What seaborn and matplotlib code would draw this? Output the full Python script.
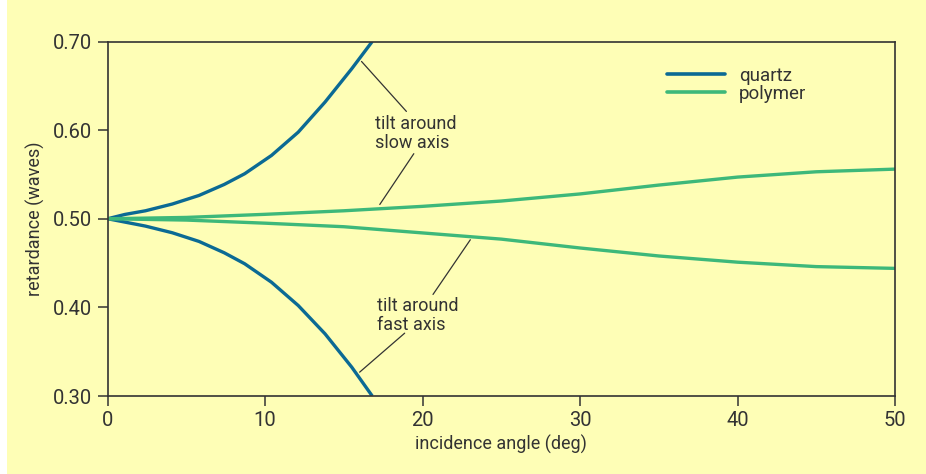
import numpy as np
import pandas as pd
import matplotlib
matplotlib.use("Agg")
import matplotlib.pyplot as plt
import seaborn as sns
from matplotlib.lines import Line2D

# ---- data ----
quartz_angle = [0, 1.1, 2.4, 4.1, 5.8, 7.4, 8.7, 10.4, 12.1, 13.8, 15.5, 16.8]
quartz_slow = [0.500, 0.5049, 0.5090, 0.5166, 0.5263, 0.5387, 0.5508, 0.5714,
               0.5977, 0.6316, 0.6693, 0.7000]
quartz_fast = [0.500, 0.4962, 0.4917, 0.4842, 0.4744, 0.4616, 0.4492, 0.4284,
               0.4021, 0.3702, 0.3325, 0.3000]

polymer_angle = [0, 5, 10, 15, 20, 25, 30, 35, 40, 45, 50]
polymer_slow = [0.500, 0.5015, 0.505, 0.509, 0.514, 0.520, 0.528, 0.538, 0.547, 0.553, 0.556]
polymer_fast = [0.500, 0.4985, 0.495, 0.491, 0.484, 0.477, 0.467, 0.458, 0.451, 0.446, 0.444]

materials = ["quartz", "polymer"]
x_ticks = [0, 10, 20, 30, 40, 50]
y_ticks = [0.30, 0.40, 0.50, 0.60, 0.70]
x_label = "incidence angle (deg)"
y_label = "retardance (waves)"

BG = "#FEFEB6"
C_Q = "#0B6A94"
C_P = "#3DB87A"
INK = "#333333"

frames = []
for mat, ang, slow, fast in [("quartz", quartz_angle, quartz_slow, quartz_fast),
                             ("polymer", polymer_angle, polymer_slow, polymer_fast)]:
    frames.append(pd.DataFrame({"angle": ang, "ret": slow, "material": mat, "axis": "slow"}))
    frames.append(pd.DataFrame({"angle": ang, "ret": fast, "material": mat, "axis": "fast"}))
df = pd.concat(frames, ignore_index=True)

sns.set_theme(style="ticks")
plt.rcParams["font.family"] = ["Roboto", "DejaVu Sans"]

fig = plt.figure(figsize=(9.26, 4.74), dpi=100, facecolor=BG)
fig.patches.append(plt.Rectangle((0, 0), 7 / 926, 1, transform=fig.transFigure,
                                 facecolor="white", edgecolor="none", zorder=-1))
ax = fig.add_axes([107.7 / 926, 1 - 396 / 474, (895 - 107.7) / 926, (396 - 41.5) / 474])
ax.set_facecolor(BG)

sns.lineplot(data=df, x="angle", y="ret", hue="material", units="axis", estimator=None,
             hue_order=materials, palette={"quartz": C_Q, "polymer": C_P},
             linewidth=2.4, ax=ax, legend=False, sort=False)
for ln in ax.lines:
    ln.set_solid_joinstyle("round")
    ln.set_solid_capstyle("butt")

ax.set_xlim(0, 50)
ax.set_ylim(0.30, 0.70)
ax.set_xticks(x_ticks)
ax.set_xticklabels([str(t) for t in x_ticks])
ax.set_yticks(y_ticks)
ax.set_yticklabels([f"{t:.2f}" for t in y_ticks])
ax.tick_params(axis="both", direction="out", length=7, width=1.1, color=INK,
               labelcolor=INK, labelsize=14.5, pad=4)
for s in ax.spines.values():
    s.set_visible(True)
    s.set_color(INK)
    s.set_linewidth(1.2)
ax.set_xlabel(x_label, fontsize=13, color=INK, labelpad=3)
ax.set_ylabel(y_label, fontsize=13, color=INK, labelpad=6)

handles = [Line2D([], [], color=C_Q, lw=2.6), Line2D([], [], color=C_P, lw=2.6)]
leg = ax.legend(handles, materials, loc="upper left",
                bbox_to_anchor=(667 / 926, 1 - 67 / 474), bbox_transform=fig.transFigure,
                frameon=False, fontsize=13.5, handlelength=3.1, handletextpad=0.75,
                labelspacing=0.0, borderpad=0, borderaxespad=0)
for t in leg.get_texts():
    t.set_color(INK)

ann_kw = dict(color=INK, lw=0.9)
ax.plot([16.12, 18.97], [0.6775, 0.6211], **ann_kw)
ax.plot([19.44, 17.28], [0.5734, 0.5161], **ann_kw)
ax.text(17.0, 0.5963, "tilt around\nslow axis", fontsize=13, color=INK,
        ha="left", va="center", linespacing=1.05)
ax.plot([23.03, 20.66], [0.4763, 0.4146], **ann_kw)
ax.plot([18.86, 16.0], [0.3709, 0.3269], **ann_kw)
ax.text(17.1, 0.3912, "tilt around\nfast axis", fontsize=13, color=INK,
        ha="left", va="center", linespacing=1.05)

fig.savefig("out.png", dpi=100, facecolor=BG)
